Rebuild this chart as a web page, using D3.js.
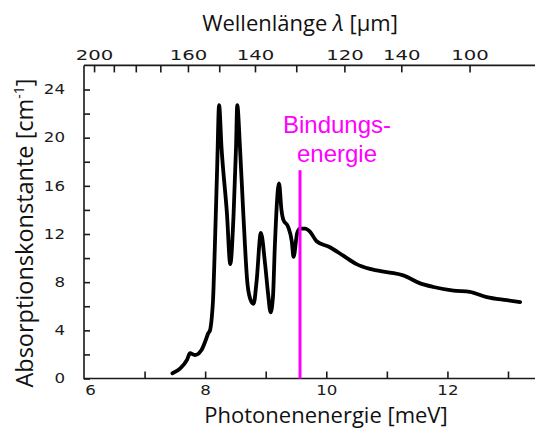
<!DOCTYPE html>
<html><head><meta charset="utf-8">
<script src="https://cdn.jsdelivr.net/npm/d3@7"></script>
<style>body{margin:0;background:#fff}svg{display:block}</style>
</head><body><svg id="c" width="535" height="431"></svg>
<script>
// ---- data ----
const energy = [7.46,7.59,7.70,7.75,7.83,7.94,8.01,8.05,8.08,8.11,8.13,8.16,8.20,8.23,8.27,8.36,8.415,8.47,8.51,8.53,8.575,8.63,8.70,8.76,8.80,8.85,8.92,8.99,9.04,9.08,9.12,9.15,9.22,9.26,9.29,9.37,9.43,9.46,9.52,9.57,9.65,9.73,9.84,10.06,10.28,10.50,10.72,11.05,11.27,11.55,11.77,12.10,12.37,12.65,12.98,13.20];
const absorption = [0.43,0.85,1.54,2.1,1.95,2.37,3.2,3.75,4.0,5.1,6.5,10.9,17.8,22.7,19.2,13.7,9.5,13.7,19.2,22.7,19.2,13.7,7.8,6.4,6.2,8.1,12.1,9.5,7.0,5.5,6.8,10.9,16.2,14.0,13.2,12.6,11.4,10.1,12.1,12.45,12.45,12.2,11.4,10.9,10.2,9.5,9.1,8.8,8.56,7.9,7.6,7.3,7.2,6.75,6.5,6.35];
const yTicks = [0,2,4,6,8,10,12,14,16,18,20,22,24];
const yTickLabels = ["0","","4","","8","","12","","16","","20","","24"];
const xTicks = [6,7,8,9,10,11,12,13];
const xTickLabels = ["6","","8","","10","","12",""];
const wlTicks = [200,190,180,170,160,150,140,130,120,110,100];
const wlTickLabels = ["200","","","","160","","140","","120","140","100"];
const bindingEnergy = 9.566;
const bindingLineTop = 17.3;
const HC = 1239.84; // meV·µm

// ---- scales ----
const svg = d3.select("#c");
const x = d3.scaleLinear().domain([6, 13]).range([84, 508]);
const y = d3.scaleLinear().domain([0, 24]).range([378.5, 89.5]);
const xTop = d3.scaleLinear().domain([1/200, 1/100]).range([x(HC/200) - 2, x(HC/100) - 2]);
const yTopAxis = y(26);
const xRight = 535;

const tickFont = "DejaVu Sans, sans-serif";
const titleFont = "'Open Sans', sans-serif";
const ink = "#1a1a1a";

// frame lines
svg.append("path")
  .attr("d", `M${x(6)},${yTopAxis} V${y(0)} H${xRight} M${x(6)},${yTopAxis} H${xRight}`)
  .attr("fill", "none").attr("stroke", ink).attr("stroke-width", 1.6);

function styleAxis(g) {
  g.select(".domain").remove();
  g.selectAll(".tick line").attr("stroke", ink).attr("stroke-width", 1.6);
  g.selectAll(".tick text").attr("font-family", tickFont).attr("fill", ink)
    .attr("font-size", 13.5)
    .each(function () {
      const t = d3.select(this), s = t.text();
      if (s.length) t.attr("textLength", s.length * 10.6).attr("lengthAdjust", "spacingAndGlyphs");
    });
}

// left axis
svg.append("g").attr("transform", `translate(${x(6)},0)`)
  .call(d3.axisLeft(y).tickValues(yTicks).tickSizeInner(-6).tickSizeOuter(0).tickPadding(19)
    .tickFormat((d, i) => yTickLabels[i]))
  .call(styleAxis);

// bottom axis
const gb = svg.append("g").attr("transform", `translate(0,${y(0)})`)
  .call(d3.axisBottom(x).tickValues(xTicks).tickSizeInner(-7).tickSizeOuter(0).tickPadding(7)
    .tickFormat((d, i) => xTickLabels[i]))
  .call(styleAxis);
gb.selectAll(".tick").filter(d => d === 6).select("line").remove();
gb.selectAll(".tick").filter(d => d === 6).select("text").attr("dx", 6);

// top axis (wavelength)
svg.append("g").attr("transform", `translate(0,${yTopAxis})`)
  .call(d3.axisTop(xTop).tickValues(wlTicks.map(l => 1 / l)).tickSizeInner(-7).tickSizeOuter(0).tickPadding(5)
    .tickFormat((d, i) => wlTickLabels[i]))
  .call(styleAxis)
  .selectAll(".tick text").each(function () {
    const t = d3.select(this), s = t.text();
    if (s.length) t.attr("textLength", s.length * 12.5).attr("font-size", 14);
  });

// curve
const pts = energy.map((e, i) => [e, absorption[i]]);
svg.append("path").datum(pts)
  .attr("d", d3.line().x(d => x(d[0])).y(d => y(d[1])).curve(d3.curveMonotoneX))
  .attr("fill", "none").attr("stroke", "#000").attr("stroke-width", 3.8)
  .attr("stroke-linejoin", "round").attr("stroke-linecap", "round");

// binding energy line
svg.append("line")
  .attr("x1", x(bindingEnergy)).attr("x2", x(bindingEnergy))
  .attr("y1", y(bindingLineTop)).attr("y2", y(0))
  .attr("stroke", "#ff00ff").attr("stroke-width", 3);

const lab = svg.append("text").attr("font-family", "'Liberation Sans', Arial, sans-serif")
  .attr("font-size", 24).attr("fill", "#ff00ff").attr("text-anchor", "middle");
lab.append("tspan").attr("x", x(bindingEnergy) + 37).attr("y", 133).text("Bindungs-");
lab.append("tspan").attr("x", x(bindingEnergy) + 37).attr("y", 162).text("energie");

// titles
const tTop = svg.append("text").attr("x", 300).attr("y", 31).attr("text-anchor", "middle")
  .attr("font-family", titleFont).attr("font-size", 22).attr("fill", "#111");
tTop.append("tspan").text("Wellenlänge ");
tTop.append("tspan").attr("font-style", "italic").text("λ");
tTop.append("tspan").text(" [µm]");

svg.append("text").attr("x", 326).attr("y", 423).attr("text-anchor", "middle")
  .attr("font-family", titleFont).attr("font-size", 22).attr("fill", "#111")
  .text("Photonenenergie [meV]");

const tY = svg.append("text").attr("transform", "translate(33,233) rotate(-90)").attr("text-anchor", "middle")
  .attr("font-family", titleFont).attr("font-size", 23.5).attr("fill", "#111");
tY.append("tspan").text("Absorptionskonstante [cm");
tY.append("tspan").attr("font-size", 14).attr("dy", -9).text("-1");
tY.append("tspan").attr("dy", 9).text("]");
</script></body></html>
